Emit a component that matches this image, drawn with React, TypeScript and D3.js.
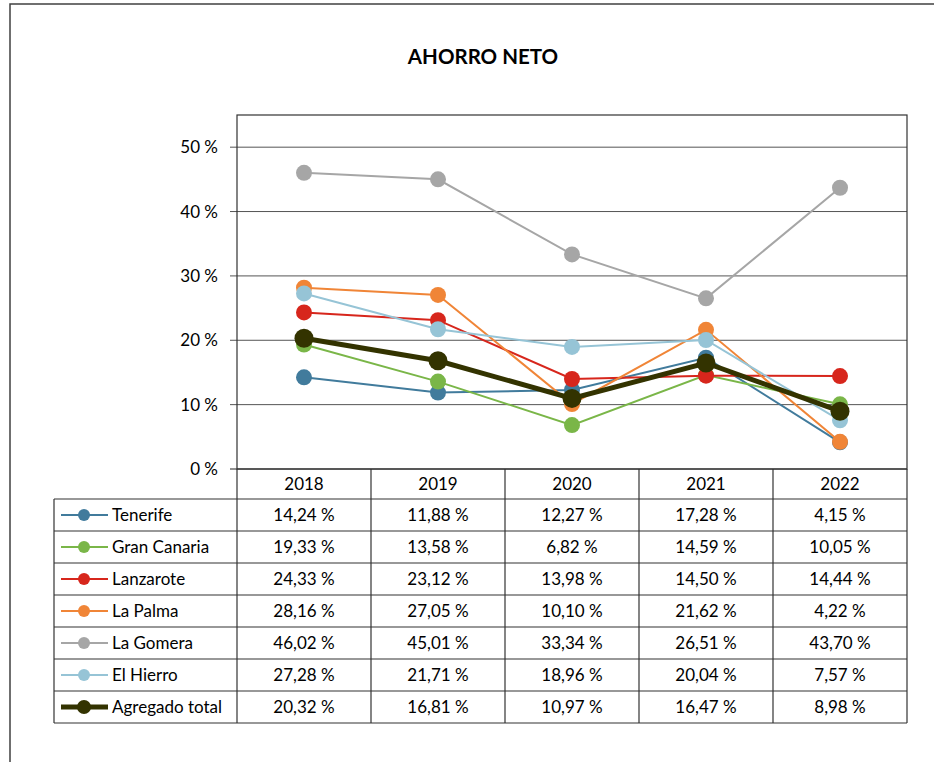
import React from "react";
import * as d3 from "d3";

const years = ["2018", "2019", "2020", "2021", "2022"];
const seriesNames = ["Tenerife", "Gran Canaria", "Lanzarote", "La Palma", "La Gomera", "El Hierro", "Agregado total"];
const tenerife = [14.24, 11.88, 12.27, 17.28, 4.15];
const granCanaria = [19.33, 13.58, 6.82, 14.59, 10.05];
const lanzarote = [24.33, 23.12, 13.98, 14.5, 14.44];
const laPalma = [28.16, 27.05, 10.1, 21.62, 4.22];
const laGomera = [46.02, 45.01, 33.34, 26.51, 43.7];
const elHierro = [27.28, 21.71, 18.96, 20.04, 7.57];
const agregado = [20.32, 16.81, 10.97, 16.47, 8.98];
const seriesValues = [tenerife, granCanaria, lanzarote, laPalma, laGomera, elHierro, agregado];
const colors = ["#417B9C", "#7AB648", "#D7261C", "#F08537", "#A6A6A6", "#96C4D6", "#333300"];
const yTicks = [0, 10, 20, 30, 40, 50];

const W = 934;
const H = 762;
const FONT = "Lato, 'Open Sans', sans-serif";

export default function App() {
  const plot = { left: 237, right: 907, top: 115, bottom: 469 };
  const x = d3.scaleBand<string>().domain(years).range([plot.left, plot.right]);
  const cx = (yr: string) => (x(yr) ?? 0) + x.bandwidth() / 2;
  const y = d3.scaleLinear().domain([0, 55]).range([plot.bottom, plot.top]);

  const line = d3
    .line<number>()
    .x((_, i) => cx(years[i]))
    .y((d) => y(d));

  const headerBottom = 499;
  const rowH = 32;
  const legendLeft = 54;
  const tableBottom = headerBottom + rowH * seriesNames.length;
  const fmt = (v: number) => v.toFixed(2).replace(".", ",") + " %";
  const stroke = "#333";
  const fs = 17;

  return (
    <div style={{ position: "fixed", left: 0, top: 0 }}>
      <svg width={W} height={H} style={{ display: "block", background: "#fff" }} fontFamily={FONT}>
        {/* outer frame */}
        <rect x={10} y={4} width={940} height={800} fill="#fff" stroke="#404040" strokeWidth={1.5} />

        <text x={483} y={64} textAnchor="middle" fontSize={20.5} fontWeight="bold" fill="#000">
          AHORRO NETO
        </text>

        {/* gridlines + y ticks */}
        {yTicks.map((t) => (
          <g key={t}>
            <line x1={plot.left - 7} x2={plot.right} y1={y(t)} y2={y(t)} stroke={t === 0 ? "#222" : "#555"} strokeWidth={1} />
            <text x={218} y={y(t) + 6} textAnchor="end" fontSize={fs} fill="#000">
              {t} %
            </text>
          </g>
        ))}

        {/* plot border */}
        <rect x={plot.left} y={plot.top} width={plot.right - plot.left} height={plot.bottom - plot.top} fill="none" stroke={stroke} strokeWidth={1.2} />

        {/* series */}
        {seriesValues.map((vals, s) => {
          const isTotal = s === seriesValues.length - 1;
          return (
            <g key={seriesNames[s]}>
              <path d={line(vals) ?? ""} fill="none" stroke={colors[s]} strokeWidth={isTotal ? 5 : 2} />
              {vals.map((v, i) => (
                <circle key={i} cx={cx(years[i])} cy={y(v)} r={isTotal ? 9.5 : 8} fill={colors[s]} />
              ))}
            </g>
          );
        })}

        {/* data table */}
        <g>
          {years.map((yr) => (
            <text key={yr} x={cx(yr)} y={headerBottom - 9} textAnchor="middle" fontSize={fs} fill="#000">
              {yr}
            </text>
          ))}
          {d3.range(seriesNames.length + 1).map((r) => (
            <line key={r} x1={legendLeft} x2={plot.right} y1={headerBottom + r * rowH} y2={headerBottom + r * rowH} stroke={stroke} strokeWidth={1.2} />
          ))}
          {years.map((yr) => (
            <line key={yr} x1={x(yr) ?? 0} x2={x(yr) ?? 0} y1={plot.bottom} y2={tableBottom} stroke={stroke} strokeWidth={1.2} />
          ))}
          <line x1={plot.right} x2={plot.right} y1={plot.bottom} y2={tableBottom} stroke={stroke} strokeWidth={1.2} />
          <line x1={legendLeft} x2={legendLeft} y1={headerBottom} y2={tableBottom} stroke={stroke} strokeWidth={1.2} />

          {seriesNames.map((name, s) => {
            const isTotal = s === seriesNames.length - 1;
            const rowMid = headerBottom + s * rowH + rowH / 2;
            return (
              <g key={name}>
                <line x1={61} x2={108} y1={rowMid} y2={rowMid} stroke={colors[s]} strokeWidth={isTotal ? 5 : 2} />
                <circle cx={84} cy={rowMid} r={isTotal ? 7 : 6} fill={colors[s]} />
                <text x={112} y={rowMid + 6} fontSize={fs} fill="#000">
                  {name}
                </text>
                {seriesValues[s].map((v, i) => (
                  <text key={i} x={cx(years[i])} y={rowMid + 6} textAnchor="middle" fontSize={fs} fill="#000">
                    {fmt(v)}
                  </text>
                ))}
              </g>
            );
          })}
        </g>
      </svg>
    </div>
  );
}
